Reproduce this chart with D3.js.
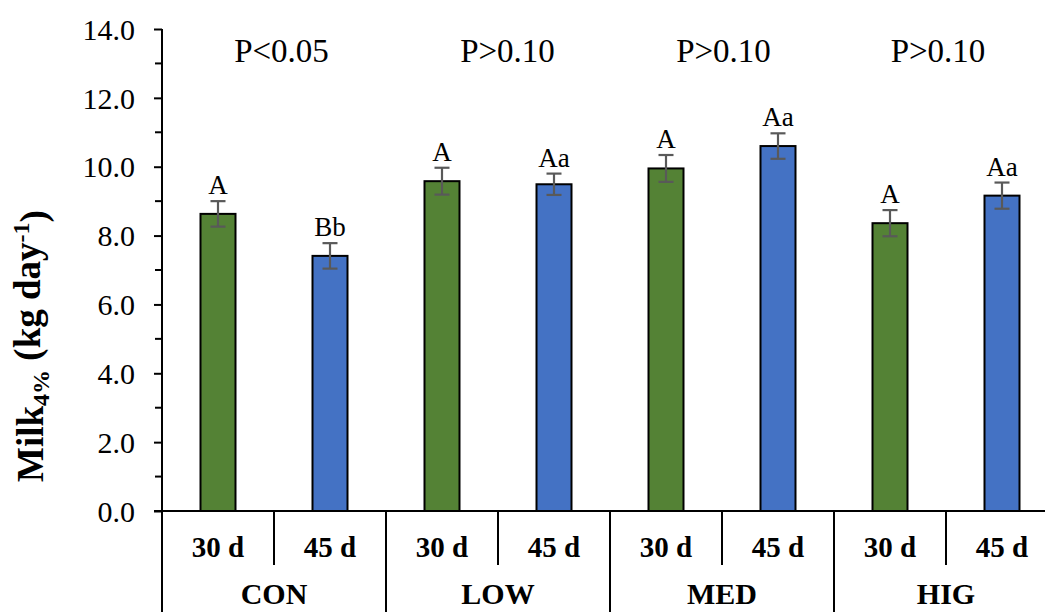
<!DOCTYPE html>
<html>
<head>
<meta charset="utf-8">
<script src="https://cdn.jsdelivr.net/npm/d3@7/dist/d3.min.js"></script>
<style>
  html, body { margin: 0; padding: 0; background: #fff; overflow: hidden; }
  svg { display: block; }
  text { font-family: "Liberation Serif", "Times New Roman", serif; fill: #000; }
</style>
</head>
<body>
<div id="chart"></div>
<script>
// ---- data ----
const groups = ["CON", "LOW", "MED", "HIG"];
const periods = ["30 d", "45 d"];
const means30 = [8.63, 9.58, 9.95, 8.36];
const means45 = [7.41, 9.49, 10.60, 9.16];
const se30 = [0.37, 0.39, 0.39, 0.38];
const se45 = [0.37, 0.31, 0.37, 0.38];
const letters30 = ["A", "A", "A", "A"];
const letters45 = ["Bb", "Aa", "Aa", "Aa"];
const pLabels = ["P<0.05", "P>0.10", "P>0.10", "P>0.10"];
const yTicks = [0, 2, 4, 6, 8, 10, 12, 14];
const yMinorTicks = [1, 3, 5, 7, 9, 11, 13];
const colors = { "30 d": "#548235", "45 d": "#4472C4" };

// ---- layout ----
const W = 1045, H = 612;
const axisX = 162, step = 112;
const plotTop = 29, plotBase = 511;

const svg = d3.select("#chart").append("svg").attr("width", W).attr("height", H);

const x0 = d3.scaleBand().domain(groups).range([axisX, axisX + groups.length * 2 * step]).padding(0);
const x1 = d3.scaleBand().domain(periods).range([0, x0.bandwidth()]).paddingInner(0.6875).paddingOuter(0.34375);
const y = d3.scaleLinear().domain([0, 14]).range([plotBase, plotTop]);

const rows = [];
groups.forEach((g, i) => {
  rows.push({ g, p: "30 d", v: means30[i], se: se30[i], lab: letters30[i] });
  rows.push({ g, p: "45 d", v: means45[i], se: se45[i], lab: letters45[i] });
});

// y axis ticks
const yAxis = d3.axisLeft(y).tickValues(yTicks).tickFormat(d3.format(".1f")).tickSize(8).tickPadding(19);
const ya = svg.append("g").attr("transform", `translate(${axisX},0)`).call(yAxis);
ya.attr("font-family", null);
ya.select(".domain").remove();
ya.selectAll(".tick line").attr("stroke", "#000").attr("stroke-width", 2);
ya.selectAll(".tick text").style("font-size", "30px").style("font-family", "'Liberation Serif', serif").attr("dy", "0.34em");
svg.append("g").selectAll("line").data(yMinorTicks).join("line")
  .attr("x1", axisX - 7).attr("x2", axisX).attr("y1", d => y(d)).attr("y2", d => y(d))
  .attr("stroke", "#000").attr("stroke-width", 2);

// y axis line (extends to bottom as group divider)
svg.append("line").attr("x1", axisX).attr("x2", axisX).attr("y1", plotTop).attr("y2", H + 2)
  .attr("stroke", "#000").attr("stroke-width", 2);

// bars
svg.append("g").selectAll("rect").data(rows).join("rect")
  .attr("x", d => x0(d.g) + x1(d.p))
  .attr("width", x1.bandwidth())
  .attr("y", d => y(d.v))
  .attr("height", d => y(0) - y(d.v))
  .attr("fill", d => colors[d.p])
  .attr("stroke", "#000").attr("stroke-width", 2);

// error bars
const eb = svg.append("g").attr("stroke", "#595959").attr("stroke-width", 2.2);
rows.forEach(d => {
  const cx = x0(d.g) + x1(d.p) + x1.bandwidth() / 2;
  eb.append("line").attr("x1", cx).attr("x2", cx).attr("y1", y(d.v + d.se)).attr("y2", y(d.v - d.se));
  eb.append("line").attr("x1", cx - 7.5).attr("x2", cx + 7.5).attr("y1", y(d.v + d.se)).attr("y2", y(d.v + d.se));
  eb.append("line").attr("x1", cx - 7.5).attr("x2", cx + 7.5).attr("y1", y(d.v - d.se)).attr("y2", y(d.v - d.se));
});

// letters above bars
svg.append("g").selectAll("text").data(rows).join("text")
  .attr("x", d => x0(d.g) + x1(d.p) + x1.bandwidth() / 2)
  .attr("y", d => y(d.v + d.se) - 7)
  .attr("text-anchor", "middle")
  .style("font-size", "27px")
  .text(d => d.lab);

// P labels
const pOffsets = [7.5, 9.5, 1.5, -8];
svg.append("g").selectAll("text").data(pLabels).join("text")
  .attr("x", (d, i) => x0(groups[i]) + x0.bandwidth() / 2 + pOffsets[i])
  .attr("y", 62)
  .attr("text-anchor", "middle")
  .style("font-size", "33px")
  .text(d => d);

// x axis baseline
svg.append("line").attr("x1", axisX - 8).attr("x2", W).attr("y1", plotBase).attr("y2", plotBase)
  .attr("stroke", "#000").attr("stroke-width", 2);

// category dividers
groups.forEach((g, i) => {
  const gx = x0(g);
  if (i > 0) {
    svg.append("line").attr("x1", gx).attr("x2", gx).attr("y1", plotBase).attr("y2", H + 2)
      .attr("stroke", "#000").attr("stroke-width", 2);
  }
  const mx = gx + x0.bandwidth() / 2;
  svg.append("line").attr("x1", mx).attr("x2", mx).attr("y1", plotBase).attr("y2", 565)
    .attr("stroke", "#000").attr("stroke-width", 2);
  periods.forEach(p => {
    svg.append("text")
      .attr("x", gx + x1(p) + x1.bandwidth() / 2)
      .attr("y", 557)
      .attr("text-anchor", "middle")
      .style("font-size", "29px").style("font-weight", "bold")
      .text(p);
  });
  svg.append("text")
    .attr("x", mx).attr("y", 604)
    .attr("text-anchor", "middle")
    .style("font-size", "30px").style("font-weight", "bold")
    .text(g);
});

// y title
const yt = svg.append("text")
  .attr("transform", "translate(43,346) rotate(-90)")
  .attr("text-anchor", "middle")
  .style("font-size", "37px").style("font-weight", "bold");
yt.append("tspan").text("Milk");
yt.append("tspan").attr("dy", "0.25em").style("font-size", "24px").text("4%");
yt.append("tspan").attr("dy", "-0.25em").text(" (kg day");
yt.append("tspan").attr("dy", "-0.45em").style("font-size", "24px").text("-1");
yt.append("tspan").attr("dy", "0.45em").text(")");
</script>
</body>
</html>
